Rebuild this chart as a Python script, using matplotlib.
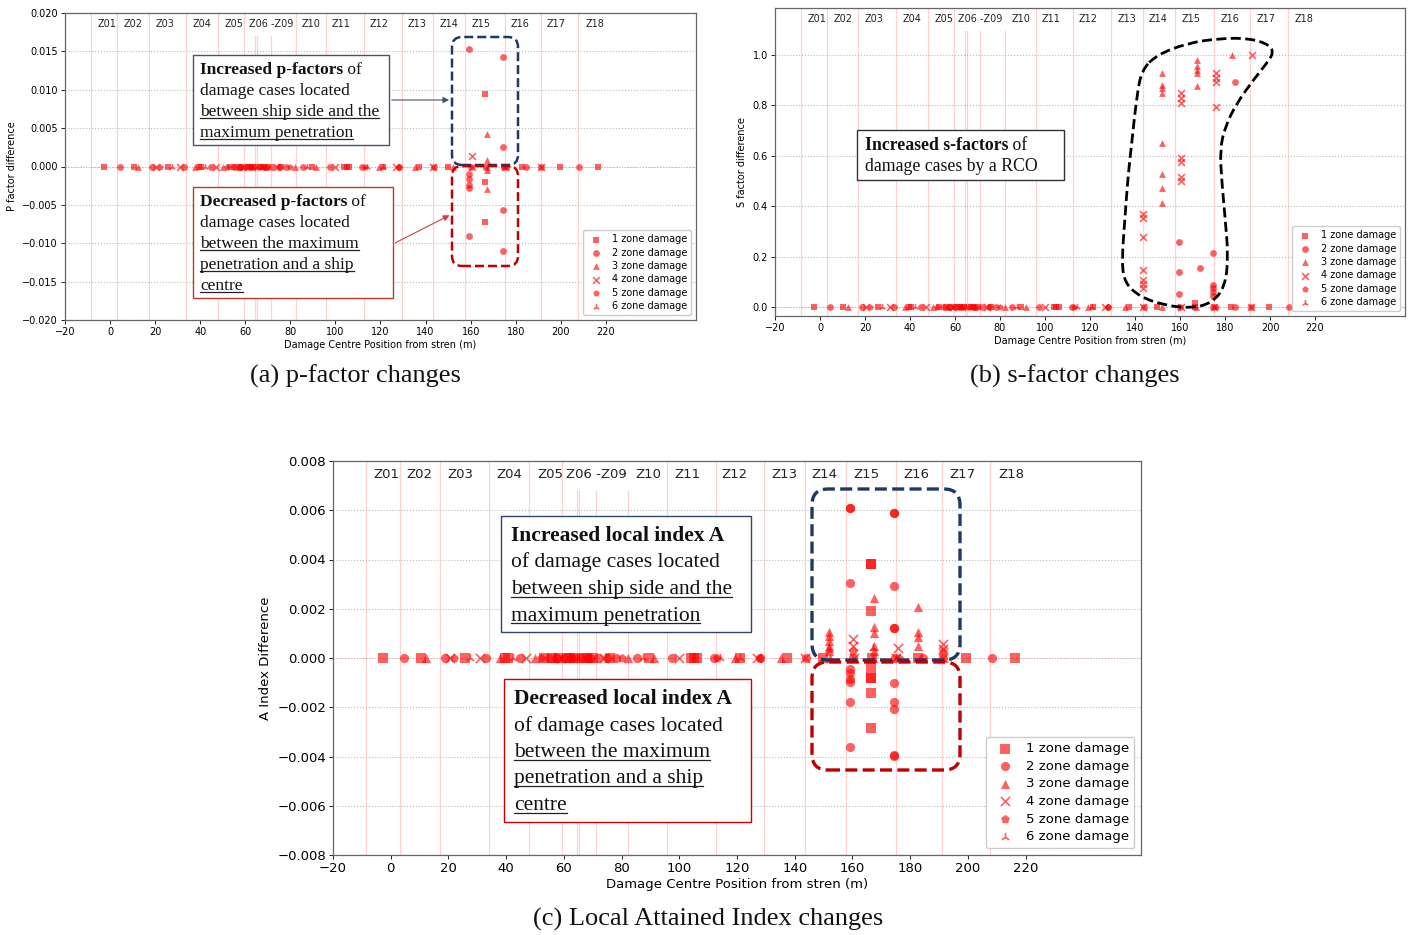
import matplotlib
matplotlib.use('Agg')
import matplotlib.pyplot as plt
from matplotlib.patches import FancyBboxPatch, PathPatch, Rectangle
from matplotlib.path import Path
from matplotlib.lines import Line2D
from matplotlib.transforms import IdentityTransform

# zone boundaries and names (m from stern)
zone_lines = [-8.6, 3.2, 17.1, 33.9, 48.0, 59.4, 64.4, 65.3, 71.3, 82.3,
              95.9, 112.6, 129.4, 143.5, 157.7, 175.2, 191.2, 207.8]
zone_names = ['Z01', 'Z02', 'Z03', 'Z04', 'Z05', 'Z06 -Z09', 'Z10', 'Z11', 'Z12',
              'Z13', 'Z14', 'Z15', 'Z16', 'Z17', 'Z18']
zone_label_x = [-1.4, 10.1, 24.2, 41.0, 55.2, 71.3, 89.2, 102.7, 119.2,
                136.3, 150.4, 164.8, 182.1, 198.1, 215.0]

damage_labels = ['1 zone damage', '2 zone damage', '3 zone damage',
                 '4 zone damage', '5 zone damage', '6 zone damage']
damage_markers = ['s', 'o', '^', 'x', 'p', '2']

# damage cases with no change (value 0), per number of damaged zones
zero_x_1 = [-2.8, 10.4, 25.7, 39.6, 40.5, 53, 56, 58, 61, 62, 64, 67, 68, 70, 76, 89.4, 104, 105,
            106, 121.2, 137.2, 149.8, 166.7, 182.7, 199.5, 216.5]
zero_x_2 = [4.5, 18.7, 33.0, 44.9, 55, 57.5, 60, 63, 66, 69, 72, 75, 78, 85.4, 97.4, 112, 128,
            143.8, 160.2, 174.7, 184.6, 191.4, 208.3]
zero_x_3 = [12.4, 37.7, 50, 57, 69, 82.1, 91.4, 119.3, 135.4, 152.1, 167.1]
zero_x_4 = [20.4, 31.0, 46.9, 59, 63, 74, 100.0, 126.8, 143.5, 160.4, 175.2, 191.4]
zero_x_5 = [22, 52, 62, 68, 80, 113, 128, 176]
zero_x_6 = [27.4, 42.3, 65, 87.4, 114, 121, 175]
zero_x = [zero_x_1, zero_x_2, zero_x_3, zero_x_4, zero_x_5, zero_x_6]

# (a) p-factor differences
p_x = [[166.2, 166.2, 166.2],
       [159.3, 174.4, 174.4, 159.3, 159.3, 159.3, 159.3, 174.4, 159.3, 174.4],
       [167.4, 167.4, 167.4, 167.4],
       [160.4], [], []]
p_y = [[0.00947, -0.00204, -0.00725],
       [0.01533, 0.01424, 0.0026, -0.00095, -0.0016, -0.00235, -0.00278, -0.00565, -0.00908, -0.01103],
       [0.00426, 0.0008, -0.0005, -0.0029],
       [0.00143], [], []]

# (b) s-factor differences
s_x = [[166.7],
       [184.6, 159.6, 159.6, 159.6, 168.9, 174.7, 174.7, 174.7, 174.7, 174.7],
       [183, 167.4, 167.4, 167.4, 167.4, 167.4, 152.1, 152.1, 152.1, 152.1, 152.1, 152.1, 152.1, 152.1],
       [191.9, 176, 176, 176, 176, 160.4, 160.4, 160.4, 160.4, 160.4, 160.4, 160.4,
        143.7, 143.7, 143.7, 143.7, 143.7, 143.7, 143.7],
       [], []]
s_y = [[0.015],
       [0.894, 0.259, 0.14, 0.05, 0.153, 0.213, 0.087, 0.075, 0.06, 0.045],
       [1.0, 0.98, 0.955, 0.94, 0.93, 0.877, 0.927, 0.88, 0.868, 0.85, 0.652, 0.527, 0.474, 0.411],
       [1.0, 0.927, 0.91, 0.894, 0.795, 0.848, 0.83, 0.81, 0.593, 0.577, 0.517, 0.501,
        0.368, 0.354, 0.279, 0.147, 0.107, 0.09, 0.074],
       [], []]

# (c) local attained index A differences
a_x = [[166.3, 166.3, 166.3, 166.3, 166.3, 166.3, 166.3, 166.3],
       [159.3, 159.3, 174.3, 174.3, 159.3, 174.3, 174.3, 174.3, 159.3, 159.3, 159.3, 159.3,
        159.3, 159.3, 174.3, 174.3, 174.3, 174.3, 174.3],
       [167.4, 167.4, 167.4, 167.4, 167.4, 182.8, 182.8, 182.8, 182.8,
        151.9, 151.9, 151.9, 151.9, 151.9, 151.9],
       [160.2, 160.2, 175.7, 191.4, 191.4],
       [160.2, 191.4],
       [167.0]]
a_y = [[0.00383, 0.00383, 0.00192, -0.00042, -0.00083, -0.00083, -0.00286, -0.00143],
       [0.0061, 0.0061, 0.0059, 0.0059, 0.00306, 0.00292, 0.00123, 0.00123, -0.00046, -0.00062,
        -0.00087, -0.00096, -0.0018, -0.00363, -0.00103, -0.00177, -0.00207, -0.00394, -0.00398],
       [0.00245, 0.00127, 0.001, 0.0005, 0.0003, 0.00208, 0.00107, 0.00085, 0.0005,
        0.00107, 0.0009, 0.0007, 0.0005, 0.0004, 0.0003],
       [0.00077, 0.0005, 0.00042, 0.00056, 0.00035],
       [0.0003, 0.0003],
       [0.0004]]

W, H = 1414, 935
fig = plt.figure(figsize=(W / 100, H / 100), dpi=100)


def fx(px):
    return px / W


def fy(py):
    return 1 - py / H


def setup_axes(rect, ylim, yticks, yfmt, ylabel, fs, ms, xv, yv):
    ax = fig.add_axes(rect)
    ax.set_xlim(-20, 260)
    ax.set_ylim(*ylim)
    ax.set_xticks(range(-20, 221, 20))
    ax.set_yticks(yticks)
    ax.set_yticklabels([yfmt.format(v).replace('-', '\u2212') for v in yticks])
    ax.tick_params(labelsize=fs, length=3, width=0.6, pad=2)
    ax.grid(axis='y', linestyle=':', color='#bbbbbb', lw=0.8)
    ax.set_axisbelow(True)
    for sp in ax.spines.values():
        sp.set_color('#666666')
        sp.set_linewidth(0.9)
    for zl in zone_lines:
        ax.axvline(zl, color='red', alpha=0.18, lw=0.9, zorder=0)
    ax.axhline(0, color='red', alpha=0.35, lw=0.7, ls=':', zorder=0)
    # white patch behind the merged Z06-Z09 label
    ax.add_patch(Rectangle((62.0, 0.925), 20.6, 0.074, transform=ax.get_xaxis_transform(),
                           fc='white', ec='none', zorder=1))
    for name, zx in zip(zone_names, zone_label_x):
        ax.text(zx, 0.965, name, transform=ax.get_xaxis_transform(), ha='center',
                va='center', fontsize=fs, color='#222222', zorder=3)
    for i in range(6):
        ax.scatter(zero_x[i] + xv[i], [0] * len(zero_x[i]) + yv[i], marker=damage_markers[i],
                   s=ms, color='red', alpha=0.62, lw=1.2 if damage_markers[i] in ('x', '2') else 0,
                   label=damage_labels[i], zorder=2)
    ax.set_xlabel('Damage Centre Position from stren (m)', fontsize=fs, labelpad=2)
    ax.set_ylabel(ylabel, fontsize=fs, labelpad=4)
    leg = ax.legend(loc='lower right', fontsize=fs, frameon=True, handletextpad=0.6,
                    borderpad=0.4, labelspacing=0.35, framealpha=1)
    leg.get_frame().set_edgecolor('#cccccc')
    leg.set_zorder(8)
    return ax


ax_a = setup_axes([fx(65), fy(320), 631 / W, 307 / H], (-0.02, 0.02),
                  [-0.02, -0.015, -0.01, -0.005, 0, 0.005, 0.01, 0.015, 0.02], '{:.3f}',
                  'P factor difference', 7, 24, p_x, p_y)
ax_b = setup_axes([fx(775), fy(316), 630 / W, 308 / H], (-0.0357, 1.1865),
                  [0, 0.2, 0.4, 0.6, 0.8, 1.0], '{:.1f}',
                  'S factor difference', 7, 24, s_x, s_y)
ax_c = setup_axes([fx(333), fy(855), 808 / W, 394 / H], (-0.008, 0.008),
                  [-0.008, -0.006, -0.004, -0.002, 0, 0.002, 0.004, 0.006, 0.008], '{:.3f}',
                  'A Index Difference', 9.5, 44, a_x, a_y)

renderer = fig.canvas.get_renderer()


def note(lines, box, left, base0, step, size, ec):
    x0, y0, x1, y1 = box
    fig.add_artist(Rectangle((fx(x0), fy(y1)), (x1 - x0) / W, (y1 - y0) / H,
                             transform=fig.transFigure, fc='white', ec=ec, lw=1.0, zorder=5))
    for i, line in enumerate(lines):
        x = left
        yb = base0 + i * step
        for seg, bold, under in line:
            t = fig.text(fx(x), fy(yb), seg, fontsize=size, family='Liberation Serif',
                         fontweight='bold' if bold else 'normal', va='baseline', ha='left',
                         color='#111111', zorder=6)
            bb = t.get_window_extent(renderer)
            if under:
                uy = yb + size * 0.17
                fig.add_artist(Line2D([fx(x), fx(x + bb.width)], [fy(uy), fy(uy)],
                                      transform=fig.transFigure, color='#222222', lw=0.9, zorder=6))
            x += bb.width


def arrow(p0, p1, color):
    ax_a.annotate('', xy=(p1[0], H - p1[1]), xycoords='figure pixels',
                  xytext=(p0[0], H - p0[1]), textcoords='figure pixels',
                  arrowprops=dict(arrowstyle='-|>', color=color, lw=0.8, mutation_scale=9),
                  annotation_clip=False, zorder=7)


def dashed_box(box, color, lw, r):
    x0, y0, x1, y1 = box
    fig.add_artist(FancyBboxPatch((x0, H - y1), x1 - x0, y1 - y0,
                                  boxstyle='round,pad=0,rounding_size=%d' % r,
                                  transform=IdentityTransform(), fill=False, ec=color,
                                  lw=lw, ls=(0, (3.6, 1.6)), zorder=4))


navy = '#1f3864'
dred = '#c00000'

# (a)
dashed_box((452, 37, 518, 165), navy, 1.8, 10)
dashed_box((452, 166, 518, 266), dred, 1.8, 10)
note([[('Increased p-factors', True, False), (' of', False, False)],
      [('damage cases located', False, False)],
      [('between ship side and the', False, True)],
      [('maximum penetration', False, True)]],
     (193, 55, 389, 145), 200, 74, 21, 12.5, '#44546a')
note([[('Decreased p-factors', True, False), (' of', False, False)],
      [('damage cases located', False, False)],
      [('between the maximum', False, True)],
      [('penetration and a ship', False, True)],
      [('centre', False, True)]],
     (193, 187, 393, 298), 200, 206, 21, 12.5, '#c0392b')
arrow((389, 100), (452, 100), '#44546a')
arrow((393, 244), (452, 214), '#d04040')

# (b) free-form outline around increased s-factors
blob = [(1156.7, 55), (1186.7, 43.3), (1220, 38.3), (1250, 38.3), (1270, 45), (1273.3, 53.3),
        (1266.7, 63.3), (1253.3, 80), (1236.7, 103.3), (1225, 126.7), (1220, 150),
        (1221.7, 180), (1225, 216.7), (1228.3, 256.7), (1225, 286.7), (1211.7, 303.3),
        (1190, 308.3), (1163.3, 305), (1140, 296.7), (1125, 283.3), (1121.7, 263.3),
        (1125, 216.7), (1128.3, 173.3), (1131.7, 143.3), (1136.7, 96.7), (1141.7, 70)]
pts = [(x, H - y) for x, y in blob]
mids = [((pts[i][0] + pts[(i + 1) % len(pts)][0]) / 2, (pts[i][1] + pts[(i + 1) % len(pts)][1]) / 2)
        for i in range(len(pts))]
verts = [mids[-1]]
codes = [Path.MOVETO]
for i in range(len(pts)):
    verts += [pts[i], mids[i]]
    codes += [Path.CURVE3, Path.CURVE3]
fig.add_artist(PathPatch(Path(verts, codes), transform=IdentityTransform(), fill=False,
                         ec='black', lw=2.0, ls=(0, (3.6, 1.6)), zorder=4))
note([[('Increased s-factors', True, False), (' of', False, False)],
      [('damage cases by a RCO', False, False)]],
     (857, 130, 1064, 180), 865, 150, 21, 12.8, '#333333')
arrow((1064, 155), (1128, 157), '#333333')

# (c)
dashed_box((812, 489, 960, 660), navy, 2.4, 16)
dashed_box((812, 662, 960, 770), dred, 2.4, 16)
note([[('Increased local index A', True, False)],
      [('of damage cases located', False, False)],
      [('between ship side and the', False, True)],
      [('maximum penetration', False, True)]],
     (501, 516, 751, 632), 511, 541, 26.5, 15.5, '#2f4470')
note([[('Decreased local index A', True, False)],
      [('of damage cases located', False, False)],
      [('between the maximum', False, True)],
      [('penetration and a ship', False, True)],
      [('centre', False, True)]],
     (504, 679, 751, 822), 514, 704, 26.5, 15.5, '#cc0000')
arrow((751, 575), (812, 575), '#2f4470')
arrow((751, 752), (812, 717), '#d04040')

# captions
for txt, cx, cy in [('(a) p-factor changes', 355, 376), ('(b) s-factor changes', 1075, 376),
                    ('(c) Local Attained Index changes', 708, 919)]:
    fig.text(fx(cx), fy(cy), txt, ha='center', va='center', fontsize=19,
             family='Liberation Serif', color='#111111')

fig.savefig('out.png', dpi=100)
